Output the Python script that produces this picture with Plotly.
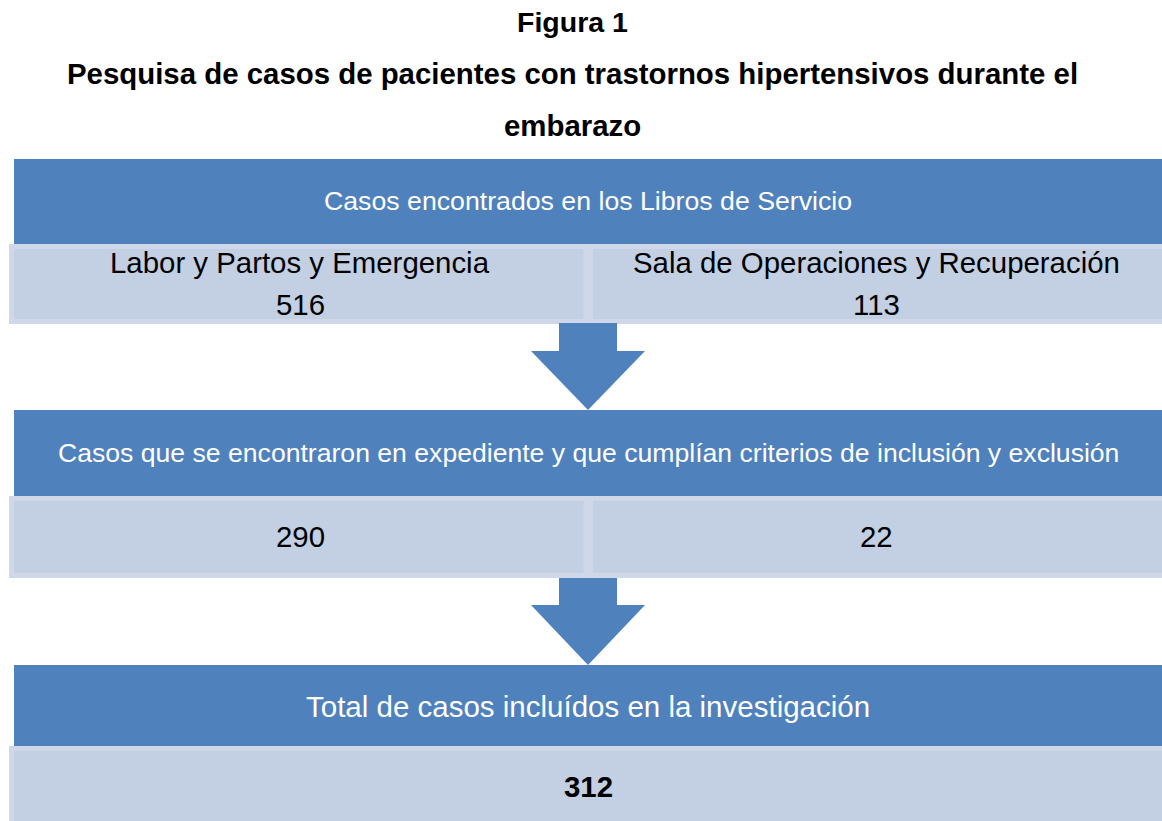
import plotly.graph_objects as go

# ---- content ----
title_lines = ["Figura 1",
               "Pesquisa de casos de pacientes con trastornos hipertensivos durante el",
               "embarazo"]
stage_headers = ["Casos encontrados en los Libros de Servicio",
                 "Casos que se encontraron en expediente y que cumplían criterios de inclusión y exclusión",
                 "Total de casos incluídos en la investigación"]
source_labels = ["Labor y Partos y Emergencia", "Sala de Operaciones y Recuperación"]
found_counts = [516, 113]
included_counts = [290, 22]
total_count = 312

# ---- style ----
W, H = 1162, 821
BLUE = "#4F81BD"
LIGHT = "#C3CFE2"
LIGHT_EDGE = "#CFD8E8"
FONT = "Arial, Liberation Sans, sans-serif"

fig = go.Figure()
shapes = []
ann = []

def light_cell(x0, x1, y0, y1):
    shapes.append(dict(type="rect", xref="x", yref="y", x0=x0, x1=x1, y0=y0, y1=y1,
                       fillcolor=LIGHT, line=dict(color=LIGHT_EDGE, width=5), layer="above"))

def blue_box(y0, y1):
    shapes.append(dict(type="rect", xref="x", yref="y", x0=14, x1=1162, y0=y0, y1=y1,
                       fillcolor=BLUE, line=dict(width=0), layer="above"))

def arrow(ytop, yneck, yapex):
    path = (f"M 559 {ytop} L 617 {ytop} L 617 {yneck} L 645 {yneck} "
            f"L 588 {yapex} L 531 {yneck} L 559 {yneck} Z")
    shapes.append(dict(type="path", xref="x", yref="y", path=path,
                       fillcolor=BLUE, line=dict(width=0), layer="above"))

def text(x, y, s, size, color="black", bold=False):
    if bold:
        s = f"<b>{s}</b>"
    ann.append(dict(x=x, y=y, xref="x", yref="y", text=s, showarrow=False,
                    font=dict(family=FONT, size=size, color=color),
                    xanchor="center", yanchor="middle"))

# Stage 1
light_cell(11.5, 586, 246.5, 321.5)
light_cell(590.5, 1170, 246.5, 321.5)
blue_box(159, 244)
arrow(323, 351, 410)
# Stage 2
light_cell(11.5, 586, 498.5, 575.5)
light_cell(590.5, 1170, 498.5, 575.5)
blue_box(410, 496)
arrow(578, 605, 665)
# Stage 3
light_cell(11.5, 1170, 748.5, 830)
blue_box(665, 746)

# Title
text(572, 22, title_lines[0], 28.5, bold=True)
text(572, 73, title_lines[1], 29.4, bold=True)
text(572, 125, title_lines[2], 29.4, bold=True)

# Stage texts
text(588, 201, stage_headers[0], 26.7, color="white")
text(300, 262, source_labels[0], 29.4)
text(876, 262, source_labels[1], 29.4)
text(300, 304, str(found_counts[0]), 29.4)
text(876, 304, str(found_counts[1]), 29.4)

text(588, 453, stage_headers[1], 26.6, color="white")
text(300, 536, str(included_counts[0]), 29.4)
text(876, 536, str(included_counts[1]), 29.4)

text(588, 706, stage_headers[2], 29.5, color="white")
text(588, 786, str(total_count), 29.4, bold=True)

fig.update_layout(
    width=W, height=H, margin=dict(l=0, r=0, t=0, b=0),
    paper_bgcolor="white", plot_bgcolor="white",
    xaxis=dict(range=[0, W], visible=False, fixedrange=True),
    yaxis=dict(range=[H, 0], visible=False, fixedrange=True),
    shapes=shapes, annotations=ann, showlegend=False,
)
fig.write_html("out.html", config={"displayModeBar": False},
               post_script="document.body.style.margin='0';")
